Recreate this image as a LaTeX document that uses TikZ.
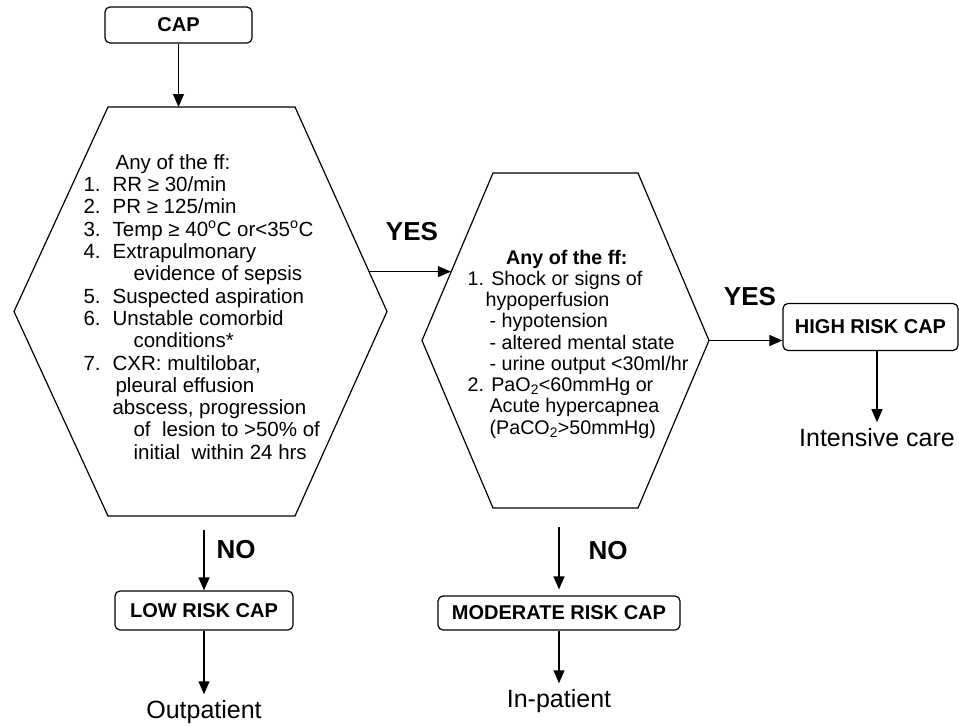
\documentclass[tikz,border=0pt]{standalone}
\usepackage{fontspec}
\setmainfont{Liberation Sans}
\usepackage{tikz}
\usetikzlibrary{arrows.meta,calc}

\newcommand{\itemno}[1]{\makebox[29pt][l]{#1}}

\begin{document}
\begin{tikzpicture}[x=1pt,y=1pt,>={Triangle[length=13pt,width=11pt]},line width=1.2pt]
  \tikzstyle{riskbox}=[rectangle,rounded corners=5pt,draw=black,fill=white,
                       font=\fontsize{20}{22}\selectfont\bfseries]
  \tikzstyle{hexbody}=[rectangle,inner sep=0pt,outer sep=0pt]
  \tikzstyle{critlist}=[align=left,inner sep=0pt,font=\fontsize{20.5}{22.3}\selectfont]
  \tikzstyle{risklist}=[align=left,inner sep=0pt,font=\fontsize{19.7}{21.25}\selectfont]
  \tikzstyle{answer}=[font=\fontsize{26}{28}\selectfont\bfseries]
  \tikzstyle{outcome}=[font=\fontsize{25}{27}\selectfont,inner sep=6pt]
  \tikzstyle{flow}=[->]
  \useasboundingbox (0,0) rectangle (959,-726);

  \node [riskbox,minimum width=147pt,minimum height=36pt] (cap) at (178.5,-25) {\raisebox{-4pt}{CAP}};

  % first hexagon: severity criteria
  \node [hexbody,minimum width=187pt,minimum height=409pt] (crit) at (201.5,-311.5) {};
  \coordinate (critE) at ([xshift=92pt]crit.east);
  \coordinate (critW) at ([xshift=-94pt]crit.west);
  \draw (crit.north west) -- (crit.north east) -- (critE) -- (crit.south east)
    -- (crit.south west) -- (critW) -- cycle;
  \node [critlist,anchor=west] (crititems) at (83,-307) {%
    \hspace*{32pt}Any of the ff:\\
    \itemno{1.}RR ≥ 30/min\\
    \itemno{2.}PR ≥ 125/min\\
    \itemno{3.}Temp ≥ 40\textsuperscript{o}C or<35\textsuperscript{o}C\\
    \itemno{4.}Extrapulmonary\\
    \hspace*{50pt}evidence of sepsis\\
    \itemno{5.}Suspected aspiration\\
    \itemno{6.}Unstable comorbid\\
    \hspace*{50pt}conditions*\\
    \itemno{7.}CXR: multilobar,\\
    \hspace*{32pt}pleural effusion\\
    \hspace*{29pt}abscess, progression\\
    \hspace*{50pt}of\ \ lesion to >50\% of\\
    \hspace*{50pt}initial\ \ within 24 hrs};

  % second hexagon: shock / gas criteria
  \node [hexbody,minimum width=145pt,minimum height=335pt] (risk) at (565.5,-340.5) {};
  \coordinate (riskE) at ([xshift=71pt]risk.east);
  \coordinate (riskW) at ([xshift=-71pt]risk.west);
  \draw (risk.north west) -- (risk.north east) -- (riskE) -- (risk.south east)
    -- (risk.south west) -- (riskW) -- cycle;
  \node [risklist,anchor=west] (riskitems) at (467,-344) {%
    \hspace*{38.5pt}\textbf{Any of the ff:}\\
    1. Shock or signs of\\
    \hspace*{18pt}hypoperfusion\\
    \hspace*{22pt}- hypotension\\
    \hspace*{22pt}- altered mental state\\
    \hspace*{22pt}- urine output <30ml/hr\\
    2. PaO\textsubscript{2}<60mmHg or\\
    \hspace*{22pt}Acute hypercapnea\\
    \hspace*{22pt}(PaCO\textsubscript{2}>50mmHg)};

  \node [riskbox,minimum width=175pt,minimum height=47pt] (high) at (870.5,-327) {HIGH RISK CAP};
  \node [riskbox,minimum width=178pt,minimum height=39pt] (low) at (204,-610.5) {LOW RISK CAP};
  \node [riskbox,minimum width=242pt,minimum height=34pt] (mod) at (559,-613) {MODERATE RISK CAP};

  \node [outcome,below of=high,node distance=111pt,xshift=6.5pt] (intensive) {Intensive care};
  \node [outcome,below of=low,node distance=102pt] (outp) {Outpatient};
  \node [outcome,below of=mod,node distance=88.5pt] (inp) {In-patient};

  \node [answer] (yescrit) at (412,-232) {YES};
  \node [answer] (yesrisk) at (750,-297) {YES};
  \node [answer] (nocrit) at (236,-550) {NO};
  \node [answer] (norisk) at (608,-551) {NO};

  \coordinate (yesout) at ($(crit.north east)!0.805!(critE)$);
  \coordinate (yesin) at ($(risk.north west)!0.593!(riskW)$);
  \draw [flow] (cap.south) -- (cap.south |- crit.north);
  \draw [flow] (yesout) -- (yesout -| yesin);
  \draw [flow] (riskE) -- (riskE -| high.west);
  \draw [flow] ([yshift=60pt]low.north) -- (low.north);
  \draw [flow] ([yshift=68pt]mod.north) -- ([yshift=6pt]mod.north);
  \draw [flow] (low) -- (outp);
  \draw [flow] (mod) -- (inp);
  \draw [flow] (high.south -| intensive) -- (intensive);
\end{tikzpicture}
\end{document}
